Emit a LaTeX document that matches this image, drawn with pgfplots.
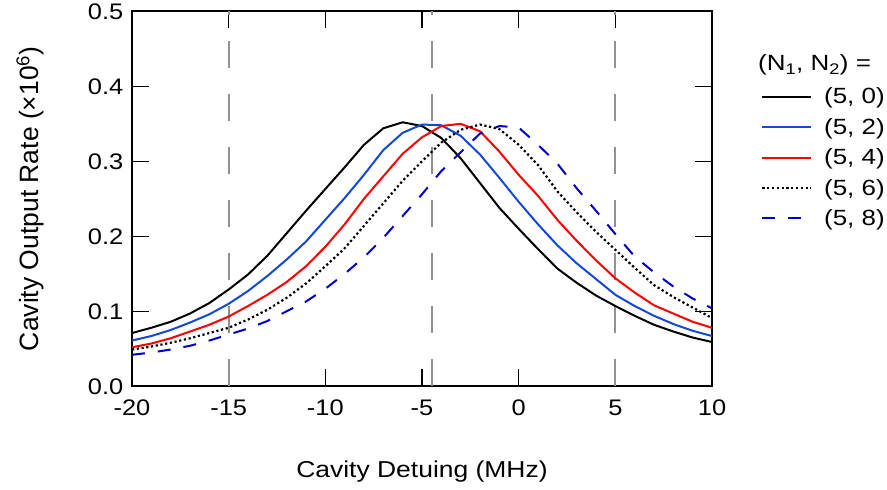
\documentclass[border=0pt]{standalone}
\usepackage{fontspec}
\setmainfont{Liberation Sans}
\newfontfamily\widetick{Liberation Sans}[FakeStretch=1.13]
\newfontfamily\widexl{Liberation Sans}[FakeStretch=1.15]
\newfontfamily\widelg{Liberation Sans}[FakeStretch=1.18]
\usepackage{pgfplots}
\pgfplotsset{compat=1.18}
\definecolor{cblue}{RGB}{20,72,214}
\definecolor{cred}{RGB}{255,0,0}
\definecolor{cdblue}{RGB}{0,0,200}
\definecolor{cgray}{RGB}{145,145,145}
\newcommand{\fstick}{\widetick\fontsize{22.5bp}{26bp}\selectfont}
\newcommand{\fsxl}{\widexl\fontsize{23bp}{27bp}\selectfont}
\newcommand{\fsyl}{\fontsize{26.5bp}{30bp}\selectfont}
\newcommand{\fslg}{\widelg\fontsize{22bp}{26bp}\selectfont}
\begin{document}
\begin{tikzpicture}
\begin{axis}[
  scale only axis, width=580bp, height=375bp,
  xmin=-20, xmax=10, ymin=0, ymax=0.5,
  xtick={-20,-15,...,10}, ytick={0,0.1,0.2,0.3,0.4,0.5},
  minor tick num=0,
  tick align=inside, major tick length=17bp,
  tick style={line width=1.5bp, black},
  axis line style={line width=2bp},
  /pgf/number format/assume math mode=true,
  tick label style={font=\fstick},
  yticklabel style={/pgf/number format/.cd, fixed, fixed zerofill, precision=1, /tikz/.cd, xshift=-5.2bp},
  xticklabel style={yshift=-10.2bp},
  xlabel={Cavity Detuing (MHz)},
  ylabel={Cavity Output Rate (\texttimes10\textsuperscript{6})},
  xlabel style={font=\fsxl, at={(axis description cs:0.5,0)}, anchor=base, yshift=-91bp},
  ylabel style={font=\fsyl, at={(axis description cs:-0.1616,0.5)}, anchor=base},
  clip=false,
  legend style={draw=none, fill=none, at={(axis description cs:1.0845,0.796)}, anchor=north west,
    inner sep=0pt, row sep=13bp, column sep=11.7bp, nodes={inner sep=0pt}, font=\fslg},
  legend cell align=left,
  legend image code/.code={\draw[#1] (0bp,0bp) -- (49bp,0bp);},
]
\addplot[cgray, line width=2bp, dash pattern=on 27bp off 26bp, forget plot] coordinates {(-15,0) (-15,0.5)};
\addplot[cgray, line width=2bp, dash pattern=on 27bp off 26bp, forget plot] coordinates {(-4.5,0) (-4.5,0.5)};
\addplot[cgray, line width=2bp, dash pattern=on 27bp off 26bp, forget plot] coordinates {(5,0) (5,0.5)};

\addplot[black, line width=2bp] coordinates {
(-20,0.071) (-19,0.078) (-18,0.086) (-17,0.097) (-16,0.111) (-15,0.129) (-14,0.149) (-13,0.174)
(-12,0.204) (-11,0.234) (-10,0.263) (-9,0.292) (-8,0.322) (-7,0.344) (-6,0.352) (-5,0.347)
(-4,0.331) (-3,0.304) (-2,0.271) (-1,0.238) (0,0.210) (1,0.183) (2,0.157) (3,0.138)
(4,0.121) (5,0.107) (6,0.094) (7,0.082) (8,0.073) (9,0.065) (10,0.059)};
\addlegendentry{(5, 0)}

\addplot[cblue, line width=2bp] coordinates {
(-20,0.061) (-19,0.067) (-18,0.075) (-17,0.085) (-16,0.096) (-15,0.110) (-14,0.127) (-13,0.147)
(-12,0.169) (-11,0.193) (-10,0.222) (-9,0.251) (-8,0.282) (-7,0.315) (-6,0.338) (-5,0.349)
(-4,0.348) (-3,0.334) (-2,0.309) (-1,0.278) (0,0.246) (1,0.216) (2,0.188) (3,0.164)
(4,0.143) (5,0.122) (6,0.107) (7,0.094) (8,0.083) (9,0.074) (10,0.067)};
\addlegendentry{(5, 2)}

\addplot[cred, line width=2bp] coordinates {
(-20,0.052) (-19,0.057) (-18,0.064) (-17,0.073) (-16,0.082) (-15,0.093) (-14,0.107) (-13,0.122)
(-12,0.139) (-11,0.160) (-10,0.186) (-9,0.216) (-8,0.250) (-7,0.280) (-6,0.310) (-5,0.332)
(-4,0.347) (-3,0.350) (-2,0.340) (-1,0.313) (0,0.282) (1,0.254) (2,0.222) (3,0.194)
(4,0.168) (5,0.144) (6,0.125) (7,0.108) (8,0.097) (9,0.086) (10,0.078)};
\addlegendentry{(5, 4)}

\addplot[black, line width=2.2bp, dash pattern=on 2.2bp off 2.6bp] coordinates {
(-20,0.049) (-19,0.053) (-18,0.058) (-17,0.064) (-16,0.071) (-15,0.078) (-14,0.089) (-13,0.102)
(-12,0.118) (-11,0.137) (-10,0.160) (-9,0.184) (-8,0.214) (-7,0.244) (-6,0.274) (-5,0.300)
(-4,0.325) (-3,0.342) (-2,0.349) (-1,0.343) (0,0.322) (1,0.295) (2,0.260) (3,0.232)
(4,0.206) (5,0.182) (6,0.158) (7,0.135) (8,0.119) (9,0.105) (10,0.091)};
\addlegendentry{(5, 6)}

\addplot[cdblue, line width=2bp, dash pattern=on 13bp off 13bp] coordinates {
(-20,0.042) (-19,0.045) (-18,0.049) (-17,0.054) (-16,0.061) (-15,0.069) (-14,0.077) (-13,0.087)
(-12,0.100) (-11,0.113) (-10,0.130) (-9,0.150) (-8,0.172) (-7,0.198) (-6,0.227) (-5,0.256)
(-4,0.287) (-3,0.312) (-2,0.337) (-1,0.347) (0,0.345) (1,0.322) (2,0.297) (3,0.264)
(4,0.234) (5,0.203) (6,0.173) (7,0.152) (8,0.133) (9,0.117) (10,0.104)};
\addlegendentry{(5, 8)}

\node[anchor=base west, inner sep=0pt, font=\fslg] at (axis description cs:1.0793,0.841) {(N\textsubscript{1}, N\textsubscript{2}) =};
\end{axis}
\path (current axis.south west) ++(-132bp,-103bp) coordinate (bl);
\path (current axis.north east) ++(175bp,8bp) coordinate (tr);
\path (bl) rectangle (tr);
\end{tikzpicture}
\end{document}
